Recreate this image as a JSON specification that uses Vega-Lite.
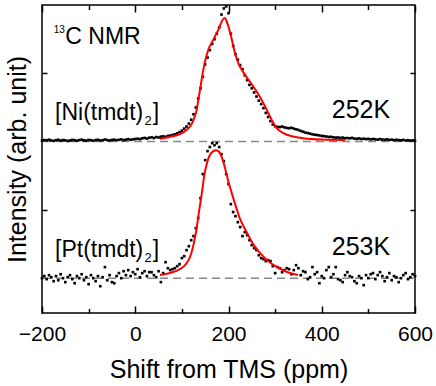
{
  "$schema": "https://vega.github.io/schema/vega-lite/v6.json",
  "width": 373,
  "height": 308,
  "autosize": {"type": "none"},
  "padding": {"left": 42, "top": 5, "right": 21, "bottom": 73},
  "background": "white",
  "config": {
    "view": {"stroke": "black", "strokeWidth": 1.5},
    "font": "Liberation Sans"
  },
  "datasets": {
    "spectra": [
      {"sample":"Ni","shift":-200,"intensity":1.506},{"sample":"Ni","shift":-195,"intensity":1.511},{"sample":"Ni","shift":-190,"intensity":1.509},{"sample":"Ni","shift":-185,"intensity":1.514},{"sample":"Ni","shift":-180,"intensity":1.508},{"sample":"Ni","shift":-175,"intensity":1.505},{"sample":"Ni","shift":-170,"intensity":1.510},{"sample":"Ni","shift":-165,"intensity":1.513},{"sample":"Ni","shift":-160,"intensity":1.507},{"sample":"Ni","shift":-155,"intensity":1.511},{"sample":"Ni","shift":-150,"intensity":1.509},{"sample":"Ni","shift":-145,"intensity":1.504},{"sample":"Ni","shift":-140,"intensity":1.508},{"sample":"Ni","shift":-135,"intensity":1.512},{"sample":"Ni","shift":-130,"intensity":1.510},{"sample":"Ni","shift":-125,"intensity":1.506},{"sample":"Ni","shift":-120,"intensity":1.511},{"sample":"Ni","shift":-115,"intensity":1.514},{"sample":"Ni","shift":-110,"intensity":1.509},{"sample":"Ni","shift":-105,"intensity":1.507},{"sample":"Ni","shift":-100,"intensity":1.512},{"sample":"Ni","shift":-95,"intensity":1.510},{"sample":"Ni","shift":-90,"intensity":1.506},{"sample":"Ni","shift":-85,"intensity":1.511},{"sample":"Ni","shift":-80,"intensity":1.513},{"sample":"Ni","shift":-75,"intensity":1.508},{"sample":"Ni","shift":-70,"intensity":1.510},{"sample":"Ni","shift":-65,"intensity":1.515},{"sample":"Ni","shift":-60,"intensity":1.511},{"sample":"Ni","shift":-55,"intensity":1.508},{"sample":"Ni","shift":-50,"intensity":1.512},{"sample":"Ni","shift":-45,"intensity":1.514},{"sample":"Ni","shift":-40,"intensity":1.510},{"sample":"Ni","shift":-35,"intensity":1.513},{"sample":"Ni","shift":-30,"intensity":1.516},{"sample":"Ni","shift":-25,"intensity":1.511},{"sample":"Ni","shift":-20,"intensity":1.514},{"sample":"Ni","shift":-15,"intensity":1.518},{"sample":"Ni","shift":-10,"intensity":1.513},{"sample":"Ni","shift":-5,"intensity":1.516},{"sample":"Ni","shift":0,"intensity":1.519},{"sample":"Ni","shift":5,"intensity":1.521},{"sample":"Ni","shift":10,"intensity":1.518},{"sample":"Ni","shift":15,"intensity":1.524},{"sample":"Ni","shift":20,"intensity":1.527},{"sample":"Ni","shift":25,"intensity":1.522},{"sample":"Ni","shift":30,"intensity":1.528},{"sample":"Ni","shift":35,"intensity":1.531},{"sample":"Ni","shift":40,"intensity":1.526},{"sample":"Ni","shift":45,"intensity":1.533},{"sample":"Ni","shift":50,"intensity":1.530},{"sample":"Ni","shift":55,"intensity":1.536},{"sample":"Ni","shift":60,"intensity":1.538},{"sample":"Ni","shift":65,"intensity":1.535},{"sample":"Ni","shift":70,"intensity":1.541},{"sample":"Ni","shift":75,"intensity":1.544},{"sample":"Ni","shift":80,"intensity":1.548},{"sample":"Ni","shift":85,"intensity":1.553},{"sample":"Ni","shift":90,"intensity":1.560},{"sample":"Ni","shift":95,"intensity":1.569},{"sample":"Ni","shift":100,"intensity":1.580},{"sample":"Ni","shift":105,"intensity":1.595},{"sample":"Ni","shift":110,"intensity":1.610},{"sample":"Ni","shift":115,"intensity":1.632},{"sample":"Ni","shift":120,"intensity":1.660},{"sample":"Ni","shift":125,"intensity":1.700},{"sample":"Ni","shift":130,"intensity":1.750},{"sample":"Ni","shift":135,"intensity":1.815},{"sample":"Ni","shift":140,"intensity":1.890},{"sample":"Ni","shift":145,"intensity":1.975},{"sample":"Ni","shift":150,"intensity":2.065},{"sample":"Ni","shift":155,"intensity":2.115},{"sample":"Ni","shift":160,"intensity":2.170},{"sample":"Ni","shift":165,"intensity":2.215},{"sample":"Ni","shift":170,"intensity":2.250},{"sample":"Ni","shift":175,"intensity":2.290},{"sample":"Ni","shift":180,"intensity":2.335},{"sample":"Ni","shift":185,"intensity":2.430},{"sample":"Ni","shift":190,"intensity":2.475},{"sample":"Ni","shift":195,"intensity":2.490},{"sample":"Ni","shift":200,"intensity":2.440},{"sample":"Ni","shift":205,"intensity":2.290},{"sample":"Ni","shift":210,"intensity":2.200},{"sample":"Ni","shift":215,"intensity":2.140},{"sample":"Ni","shift":220,"intensity":2.100},{"sample":"Ni","shift":225,"intensity":2.060},{"sample":"Ni","shift":230,"intensity":2.030},{"sample":"Ni","shift":235,"intensity":1.985},{"sample":"Ni","shift":240,"intensity":1.950},{"sample":"Ni","shift":245,"intensity":1.915},{"sample":"Ni","shift":250,"intensity":1.890},{"sample":"Ni","shift":255,"intensity":1.860},{"sample":"Ni","shift":260,"intensity":1.830},{"sample":"Ni","shift":265,"intensity":1.800},{"sample":"Ni","shift":270,"intensity":1.775},{"sample":"Ni","shift":275,"intensity":1.745},{"sample":"Ni","shift":280,"intensity":1.710},{"sample":"Ni","shift":285,"intensity":1.680},{"sample":"Ni","shift":290,"intensity":1.650},{"sample":"Ni","shift":295,"intensity":1.625},{"sample":"Ni","shift":300,"intensity":1.612},{"sample":"Ni","shift":305,"intensity":1.608},{"sample":"Ni","shift":310,"intensity":1.606},{"sample":"Ni","shift":315,"intensity":1.610},{"sample":"Ni","shift":320,"intensity":1.604},{"sample":"Ni","shift":325,"intensity":1.600},{"sample":"Ni","shift":330,"intensity":1.598},{"sample":"Ni","shift":335,"intensity":1.601},{"sample":"Ni","shift":340,"intensity":1.595},{"sample":"Ni","shift":345,"intensity":1.590},{"sample":"Ni","shift":350,"intensity":1.585},{"sample":"Ni","shift":355,"intensity":1.578},{"sample":"Ni","shift":360,"intensity":1.572},{"sample":"Ni","shift":365,"intensity":1.566},{"sample":"Ni","shift":370,"intensity":1.562},{"sample":"Ni","shift":375,"intensity":1.558},{"sample":"Ni","shift":380,"intensity":1.553},{"sample":"Ni","shift":385,"intensity":1.550},{"sample":"Ni","shift":390,"intensity":1.548},{"sample":"Ni","shift":395,"intensity":1.545},{"sample":"Ni","shift":400,"intensity":1.541},{"sample":"Ni","shift":405,"intensity":1.540},{"sample":"Ni","shift":410,"intensity":1.537},{"sample":"Ni","shift":415,"intensity":1.534},{"sample":"Ni","shift":420,"intensity":1.535},{"sample":"Ni","shift":425,"intensity":1.531},{"sample":"Ni","shift":430,"intensity":1.529},{"sample":"Ni","shift":435,"intensity":1.530},{"sample":"Ni","shift":440,"intensity":1.527},{"sample":"Ni","shift":445,"intensity":1.529},{"sample":"Ni","shift":450,"intensity":1.525},{"sample":"Ni","shift":455,"intensity":1.526},{"sample":"Ni","shift":460,"intensity":1.524},{"sample":"Ni","shift":465,"intensity":1.527},{"sample":"Ni","shift":470,"intensity":1.522},{"sample":"Ni","shift":475,"intensity":1.520},{"sample":"Ni","shift":480,"intensity":1.523},{"sample":"Ni","shift":485,"intensity":1.519},{"sample":"Ni","shift":490,"intensity":1.521},{"sample":"Ni","shift":495,"intensity":1.518},{"sample":"Ni","shift":500,"intensity":1.520},{"sample":"Ni","shift":505,"intensity":1.516},{"sample":"Ni","shift":510,"intensity":1.519},{"sample":"Ni","shift":515,"intensity":1.517},{"sample":"Ni","shift":520,"intensity":1.514},{"sample":"Ni","shift":525,"intensity":1.518},{"sample":"Ni","shift":530,"intensity":1.515},{"sample":"Ni","shift":535,"intensity":1.513},{"sample":"Ni","shift":540,"intensity":1.516},{"sample":"Ni","shift":545,"intensity":1.512},{"sample":"Ni","shift":550,"intensity":1.514},{"sample":"Ni","shift":555,"intensity":1.510},{"sample":"Ni","shift":560,"intensity":1.513},{"sample":"Ni","shift":565,"intensity":1.511},{"sample":"Ni","shift":570,"intensity":1.509},{"sample":"Ni","shift":575,"intensity":1.512},{"sample":"Ni","shift":580,"intensity":1.508},{"sample":"Ni","shift":585,"intensity":1.510},{"sample":"Ni","shift":590,"intensity":1.507},{"sample":"Ni","shift":595,"intensity":1.509},{"sample":"Ni","shift":600,"intensity":1.504},
      {"sample":"Pt","shift":-200,"intensity":0.500},{"sample":"Pt","shift":-195,"intensity":0.515},{"sample":"Pt","shift":-190,"intensity":0.493},{"sample":"Pt","shift":-185,"intensity":0.522},{"sample":"Pt","shift":-180,"intensity":0.507},{"sample":"Pt","shift":-175,"intensity":0.478},{"sample":"Pt","shift":-170,"intensity":0.515},{"sample":"Pt","shift":-165,"intensity":0.485},{"sample":"Pt","shift":-160,"intensity":0.529},{"sample":"Pt","shift":-155,"intensity":0.500},{"sample":"Pt","shift":-150,"intensity":0.471},{"sample":"Pt","shift":-145,"intensity":0.507},{"sample":"Pt","shift":-140,"intensity":0.522},{"sample":"Pt","shift":-135,"intensity":0.493},{"sample":"Pt","shift":-130,"intensity":0.463},{"sample":"Pt","shift":-125,"intensity":0.515},{"sample":"Pt","shift":-120,"intensity":0.500},{"sample":"Pt","shift":-115,"intensity":0.529},{"sample":"Pt","shift":-110,"intensity":0.485},{"sample":"Pt","shift":-105,"intensity":0.507},{"sample":"Pt","shift":-100,"intensity":0.456},{"sample":"Pt","shift":-95,"intensity":0.522},{"sample":"Pt","shift":-90,"intensity":0.500},{"sample":"Pt","shift":-85,"intensity":0.478},{"sample":"Pt","shift":-80,"intensity":0.515},{"sample":"Pt","shift":-75,"intensity":0.441},{"sample":"Pt","shift":-70,"intensity":0.507},{"sample":"Pt","shift":-65,"intensity":0.581},{"sample":"Pt","shift":-60,"intensity":0.485},{"sample":"Pt","shift":-55,"intensity":0.522},{"sample":"Pt","shift":-50,"intensity":0.471},{"sample":"Pt","shift":-45,"intensity":0.463},{"sample":"Pt","shift":-40,"intensity":0.515},{"sample":"Pt","shift":-35,"intensity":0.537},{"sample":"Pt","shift":-30,"intensity":0.500},{"sample":"Pt","shift":-25,"intensity":0.551},{"sample":"Pt","shift":-20,"intensity":0.522},{"sample":"Pt","shift":-15,"intensity":0.559},{"sample":"Pt","shift":-10,"intensity":0.515},{"sample":"Pt","shift":-5,"intensity":0.544},{"sample":"Pt","shift":0,"intensity":0.529},{"sample":"Pt","shift":5,"intensity":0.566},{"sample":"Pt","shift":10,"intensity":0.507},{"sample":"Pt","shift":15,"intensity":0.537},{"sample":"Pt","shift":20,"intensity":0.551},{"sample":"Pt","shift":25,"intensity":0.515},{"sample":"Pt","shift":30,"intensity":0.544},{"sample":"Pt","shift":35,"intensity":0.544},{"sample":"Pt","shift":40,"intensity":0.522},{"sample":"Pt","shift":45,"intensity":0.507},{"sample":"Pt","shift":50,"intensity":0.551},{"sample":"Pt","shift":55,"intensity":0.471},{"sample":"Pt","shift":60,"intensity":0.537},{"sample":"Pt","shift":65,"intensity":0.617},{"sample":"Pt","shift":70,"intensity":0.573},{"sample":"Pt","shift":75,"intensity":0.559},{"sample":"Pt","shift":80,"intensity":0.566},{"sample":"Pt","shift":85,"intensity":0.573},{"sample":"Pt","shift":90,"intensity":0.588},{"sample":"Pt","shift":95,"intensity":0.603},{"sample":"Pt","shift":100,"intensity":0.647},{"sample":"Pt","shift":105,"intensity":0.661},{"sample":"Pt","shift":110,"intensity":0.705},{"sample":"Pt","shift":115,"intensity":0.734},{"sample":"Pt","shift":120,"intensity":0.778},{"sample":"Pt","shift":125,"intensity":0.808},{"sample":"Pt","shift":130,"intensity":0.866},{"sample":"Pt","shift":135,"intensity":0.940},{"sample":"Pt","shift":140,"intensity":1.086},{"sample":"Pt","shift":145,"intensity":1.262},{"sample":"Pt","shift":150,"intensity":1.364},{"sample":"Pt","shift":155,"intensity":1.430},{"sample":"Pt","shift":160,"intensity":1.460},{"sample":"Pt","shift":165,"intensity":1.489},{"sample":"Pt","shift":170,"intensity":1.474},{"sample":"Pt","shift":175,"intensity":1.489},{"sample":"Pt","shift":180,"intensity":1.460},{"sample":"Pt","shift":185,"intensity":1.408},{"sample":"Pt","shift":190,"intensity":1.357},{"sample":"Pt","shift":195,"intensity":1.262},{"sample":"Pt","shift":200,"intensity":1.189},{"sample":"Pt","shift":205,"intensity":1.042},{"sample":"Pt","shift":210,"intensity":0.984},{"sample":"Pt","shift":215,"intensity":0.954},{"sample":"Pt","shift":220,"intensity":0.910},{"sample":"Pt","shift":225,"intensity":0.874},{"sample":"Pt","shift":230,"intensity":0.808},{"sample":"Pt","shift":235,"intensity":0.837},{"sample":"Pt","shift":240,"intensity":0.815},{"sample":"Pt","shift":245,"intensity":0.778},{"sample":"Pt","shift":250,"intensity":0.742},{"sample":"Pt","shift":255,"intensity":0.720},{"sample":"Pt","shift":260,"intensity":0.705},{"sample":"Pt","shift":265,"intensity":0.668},{"sample":"Pt","shift":270,"intensity":0.647},{"sample":"Pt","shift":275,"intensity":0.639},{"sample":"Pt","shift":280,"intensity":0.625},{"sample":"Pt","shift":285,"intensity":0.632},{"sample":"Pt","shift":290,"intensity":0.625},{"sample":"Pt","shift":295,"intensity":0.588},{"sample":"Pt","shift":300,"intensity":0.537},{"sample":"Pt","shift":305,"intensity":0.581},{"sample":"Pt","shift":310,"intensity":0.573},{"sample":"Pt","shift":315,"intensity":0.544},{"sample":"Pt","shift":320,"intensity":0.559},{"sample":"Pt","shift":325,"intensity":0.573},{"sample":"Pt","shift":330,"intensity":0.566},{"sample":"Pt","shift":335,"intensity":0.529},{"sample":"Pt","shift":340,"intensity":0.559},{"sample":"Pt","shift":345,"intensity":0.595},{"sample":"Pt","shift":350,"intensity":0.573},{"sample":"Pt","shift":355,"intensity":0.522},{"sample":"Pt","shift":360,"intensity":0.551},{"sample":"Pt","shift":365,"intensity":0.544},{"sample":"Pt","shift":370,"intensity":0.493},{"sample":"Pt","shift":375,"intensity":0.507},{"sample":"Pt","shift":380,"intensity":0.581},{"sample":"Pt","shift":385,"intensity":0.529},{"sample":"Pt","shift":390,"intensity":0.544},{"sample":"Pt","shift":395,"intensity":0.463},{"sample":"Pt","shift":400,"intensity":0.515},{"sample":"Pt","shift":405,"intensity":0.500},{"sample":"Pt","shift":410,"intensity":0.559},{"sample":"Pt","shift":415,"intensity":0.581},{"sample":"Pt","shift":420,"intensity":0.507},{"sample":"Pt","shift":425,"intensity":0.529},{"sample":"Pt","shift":430,"intensity":0.581},{"sample":"Pt","shift":435,"intensity":0.493},{"sample":"Pt","shift":440,"intensity":0.485},{"sample":"Pt","shift":445,"intensity":0.471},{"sample":"Pt","shift":450,"intensity":0.522},{"sample":"Pt","shift":455,"intensity":0.544},{"sample":"Pt","shift":460,"intensity":0.515},{"sample":"Pt","shift":465,"intensity":0.507},{"sample":"Pt","shift":470,"intensity":0.478},{"sample":"Pt","shift":475,"intensity":0.463},{"sample":"Pt","shift":480,"intensity":0.515},{"sample":"Pt","shift":485,"intensity":0.500},{"sample":"Pt","shift":490,"intensity":0.449},{"sample":"Pt","shift":495,"intensity":0.522},{"sample":"Pt","shift":500,"intensity":0.500},{"sample":"Pt","shift":505,"intensity":0.529},{"sample":"Pt","shift":510,"intensity":0.537},{"sample":"Pt","shift":515,"intensity":0.493},{"sample":"Pt","shift":520,"intensity":0.522},{"sample":"Pt","shift":525,"intensity":0.544},{"sample":"Pt","shift":530,"intensity":0.515},{"sample":"Pt","shift":535,"intensity":0.478},{"sample":"Pt","shift":540,"intensity":0.507},{"sample":"Pt","shift":545,"intensity":0.537},{"sample":"Pt","shift":550,"intensity":0.485},{"sample":"Pt","shift":555,"intensity":0.515},{"sample":"Pt","shift":560,"intensity":0.507},{"sample":"Pt","shift":565,"intensity":0.471},{"sample":"Pt","shift":570,"intensity":0.500},{"sample":"Pt","shift":575,"intensity":0.522},{"sample":"Pt","shift":580,"intensity":0.537},{"sample":"Pt","shift":585,"intensity":0.493},{"sample":"Pt","shift":590,"intensity":0.507},{"sample":"Pt","shift":595,"intensity":0.529},{"sample":"Pt","shift":600,"intensity":0.515}
    ],
    "fits": [
      {"sample":"Ni","shift":53,"intensity":1.520},{"sample":"Ni","shift":75,"intensity":1.535},{"sample":"Ni","shift":96,"intensity":1.555},{"sample":"Ni","shift":110,"intensity":1.585},{"sample":"Ni","shift":117,"intensity":1.610},{"sample":"Ni","shift":124,"intensity":1.650},{"sample":"Ni","shift":128,"intensity":1.690},{"sample":"Ni","shift":131.8,"intensity":1.732},{"sample":"Ni","shift":135,"intensity":1.800},{"sample":"Ni","shift":138.9,"intensity":1.879},{"sample":"Ni","shift":144.7,"intensity":2.001},{"sample":"Ni","shift":149.6,"intensity":2.086},{"sample":"Ni","shift":156.7,"intensity":2.172},{"sample":"Ni","shift":167.4,"intensity":2.245},{"sample":"Ni","shift":178.1,"intensity":2.318},{"sample":"Ni","shift":187.6,"intensity":2.392},{"sample":"Ni","shift":191.9,"intensity":2.404},{"sample":"Ni","shift":197.4,"intensity":2.367},{"sample":"Ni","shift":204.7,"intensity":2.282},{"sample":"Ni","shift":213.9,"intensity":2.148},{"sample":"Ni","shift":221,"intensity":2.074},{"sample":"Ni","shift":235.4,"intensity":1.989},{"sample":"Ni","shift":253.2,"intensity":1.903},{"sample":"Ni","shift":271.2,"intensity":1.805},{"sample":"Ni","shift":282,"intensity":1.732},{"sample":"Ni","shift":292.7,"intensity":1.659},{"sample":"Ni","shift":303.4,"intensity":1.598},{"sample":"Ni","shift":317.5,"intensity":1.562},{"sample":"Ni","shift":339,"intensity":1.537},{"sample":"Ni","shift":360,"intensity":1.525},{"sample":"Ni","shift":400,"intensity":1.515},{"sample":"Ni","shift":450,"intensity":1.512},
      {"sample":"Pt","shift":53.1,"intensity":0.523},{"sample":"Pt","shift":74.5,"intensity":0.538},{"sample":"Pt","shift":96,"intensity":0.567},{"sample":"Pt","shift":108.9,"intensity":0.604},{"sample":"Pt","shift":117.4,"intensity":0.655},{"sample":"Pt","shift":123.9,"intensity":0.729},{"sample":"Pt","shift":130.3,"intensity":0.838},{"sample":"Pt","shift":136.7,"intensity":0.985},{"sample":"Pt","shift":143.2,"intensity":1.131},{"sample":"Pt","shift":147.5,"intensity":1.241},{"sample":"Pt","shift":153.9,"intensity":1.344},{"sample":"Pt","shift":160.3,"intensity":1.403},{"sample":"Pt","shift":166.8,"intensity":1.428},{"sample":"Pt","shift":173.2,"intensity":1.436},{"sample":"Pt","shift":179.6,"intensity":1.425},{"sample":"Pt","shift":186.1,"intensity":1.381},{"sample":"Pt","shift":192.5,"intensity":1.307},{"sample":"Pt","shift":198.9,"intensity":1.219},{"sample":"Pt","shift":207.5,"intensity":1.117},{"sample":"Pt","shift":216.1,"intensity":1.022},{"sample":"Pt","shift":224.7,"intensity":0.934},{"sample":"Pt","shift":237.5,"intensity":0.846},{"sample":"Pt","shift":252.5,"intensity":0.751},{"sample":"Pt","shift":267.6,"intensity":0.685},{"sample":"Pt","shift":284.7,"intensity":0.626},{"sample":"Pt","shift":304,"intensity":0.582},{"sample":"Pt","shift":325.5,"intensity":0.545},{"sample":"Pt","shift":349,"intensity":0.523}
    ],
    "baselines": [{"intensity":1.5},{"intensity":0.5}],
    "labelsMid": [
      {"shift":-150,"intensity":2.217,"text":"C NMR"},
      {"shift":-172,"intensity":1.659,"text":"[Ni(tmdt)"},
      {"shift":37.4,"intensity":1.659,"text":"]"},
      {"shift":-172,"intensity":0.657,"text":"[Pt(tmdt)"},
      {"shift":37.4,"intensity":0.657,"text":"]"}
    ],
    "labelsTemp": [
      {"shift":484,"intensity":1.671,"text":"252K"},
      {"shift":484,"intensity":0.669,"text":"253K"}
    ],
    "labelsSmall": [
      {"shift":-175,"intensity":2.294,"text":"13"}
    ],
    "labelsSub": [
      {"shift":19.8,"intensity":1.622,"text":"2"},
      {"shift":19.8,"intensity":0.620,"text":"2"}
    ]
  },
  "resolve": {"axis": {"x": "independent", "y": "independent"}},
  "layer": [
    {
      "data": {"name": "baselines"},
      "mark": {"type": "rule", "color": "#888888", "strokeWidth": 1.5, "strokeDash": [8, 5]},
      "encoding": {
        "y": {"field": "intensity", "type": "quantitative", "scale": {"domain": [0.245, 2.5], "nice": false, "zero": false}, "axis": null}
      }
    },
    {
      "data": {"name": "spectra"},
      "mark": {"type": "point", "shape": "square", "filled": true, "size": 7, "color": "black", "opacity": 1, "strokeWidth": 0},
      "encoding": {
        "x": {"field": "shift", "type": "quantitative", "scale": {"domain": [-200, 600], "nice": false, "zero": false},
          "axis": {"orient": "bottom", "values": [-200,-100,0,100,200,300,400,500,600],
            "labelExpr": "datum.value % 200 === 0 ? datum.label : ''",
            "tickSize": {"condition": {"test": "datum.value % 200 === 0", "value": -7}, "value": -4.5},
            "tickColor": "black", "tickWidth": 1.5, "domain": false, "grid": false,
            "labelFontSize": 21, "labelFont": "Liberation Sans", "labelColor": "black", "labelPadding": 17.5,
            "labelFlush": false, "labelOverlap": false,
            "title": "Shift from TMS (ppm)", "titleFont": "Liberation Sans", "titleFontSize": 25, "titleFontWeight": "normal",
            "titleColor": "black", "titleBaseline": "alphabetic", "titleY": 64}},
        "y": {"field": "intensity", "type": "quantitative", "scale": {"domain": [0.245, 2.5], "nice": false, "zero": false},
          "axis": {"orient": "left", "values": [1, 2], "labels": false, "tickSize": -5, "tickColor": "black", "tickWidth": 1.5,
            "domain": false, "grid": false,
            "title": "Intensity (arb. unit)", "titleFont": "Liberation Sans", "titleFontSize": 25, "titleFontWeight": "normal",
            "titleColor": "black", "titleBaseline": "alphabetic", "titleX": -17}},
        "detail": {"field": "sample"}
      }
    },
    {
      "data": {"name": "fits"},
      "mark": {"type": "line", "color": "#ff0000", "strokeWidth": 2, "interpolate": "monotone"},
      "encoding": {
        "x": {"field": "shift", "type": "quantitative", "scale": {"domain": [-200, 600], "nice": false, "zero": false},
          "axis": {"orient": "top", "values": [-200,-100,0,100,200,300,400,500,600], "labels": false,
            "tickSize": {"condition": {"test": "datum.value % 200 === 0", "value": -7}, "value": -4.5},
            "tickColor": "black", "tickWidth": 1.5, "domain": false, "grid": false, "title": null}},
        "y": {"field": "intensity", "type": "quantitative", "scale": {"domain": [0.245, 2.5], "nice": false, "zero": false},
          "axis": {"orient": "right", "values": [1, 2], "labels": false, "tickSize": -5, "tickColor": "black", "tickWidth": 1.5,
            "domain": false, "grid": false, "title": null}},
        "detail": {"field": "sample"}
      }
    },
    {
      "data": {"name": "labelsMid"},
      "mark": {"type": "text", "align": "left", "baseline": "alphabetic", "font": "Liberation Sans", "fontSize": 23, "color": "black"},
      "encoding": {
        "x": {"field": "shift", "type": "quantitative", "scale": {"domain": [-200, 600], "nice": false, "zero": false}, "axis": null},
        "y": {"field": "intensity", "type": "quantitative", "scale": {"domain": [0.245, 2.5], "nice": false, "zero": false}, "axis": null},
        "text": {"field": "text"}
      }
    },
    {
      "data": {"name": "labelsTemp"},
      "mark": {"type": "text", "align": "center", "baseline": "alphabetic", "font": "Liberation Sans", "fontSize": 25, "color": "black"},
      "encoding": {
        "x": {"field": "shift", "type": "quantitative", "scale": {"domain": [-200, 600], "nice": false, "zero": false}, "axis": null},
        "y": {"field": "intensity", "type": "quantitative", "scale": {"domain": [0.245, 2.5], "nice": false, "zero": false}, "axis": null},
        "text": {"field": "text"}
      }
    },
    {
      "data": {"name": "labelsSmall"},
      "mark": {"type": "text", "align": "left", "baseline": "alphabetic", "font": "Liberation Sans", "fontSize": 10, "color": "black"},
      "encoding": {
        "x": {"field": "shift", "type": "quantitative", "scale": {"domain": [-200, 600], "nice": false, "zero": false}, "axis": null},
        "y": {"field": "intensity", "type": "quantitative", "scale": {"domain": [0.245, 2.5], "nice": false, "zero": false}, "axis": null},
        "text": {"field": "text"}
      }
    },
    {
      "data": {"name": "labelsSub"},
      "mark": {"type": "text", "align": "left", "baseline": "alphabetic", "font": "Liberation Sans", "fontSize": 13, "color": "black"},
      "encoding": {
        "x": {"field": "shift", "type": "quantitative", "scale": {"domain": [-200, 600], "nice": false, "zero": false}, "axis": null},
        "y": {"field": "intensity", "type": "quantitative", "scale": {"domain": [0.245, 2.5], "nice": false, "zero": false}, "axis": null},
        "text": {"field": "text"}
      }
    }
  ]
}
